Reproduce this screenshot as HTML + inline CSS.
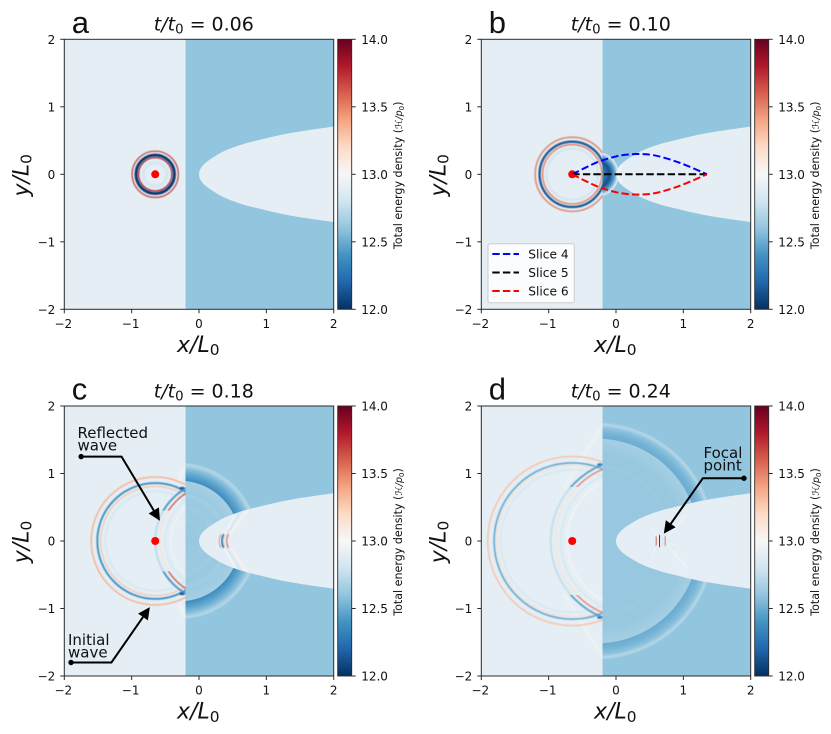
<!DOCTYPE html>
<html lang="en">
<head>
<meta charset="utf-8">
<title>Wave focusing in a gradient lens</title>
<style>
html,body{margin:0;padding:0;background:#fff;width:831px;height:734px;overflow:hidden}
svg{display:block}
text{font-family:"DejaVu Sans","Liberation Sans",sans-serif;fill:#111}
</style>
</head>
<body>
<svg id="fig" width="831" height="734" viewBox="0 0 831 734" xmlns="http://www.w3.org/2000/svg">
  <defs id="defs">
    <filter id="soft" x="-20%" y="-20%" width="140%" height="140%"><feGaussianBlur stdDeviation="0.45"/></filter>
    <filter id="softer" x="-20%" y="-20%" width="140%" height="140%"><feGaussianBlur stdDeviation="1.2"/></filter>
  </defs>
</svg>
<script>
// ---------- figure data ----------
const panelLetters = ['a', 'b', 'c', 'd'];
const panelTimes = ['0.06', '0.10', '0.18', '0.24'];
const xTicks = [-2, -1, 0, 1, 2];
const yTicks = [-2, -1, 0, 1, 2];
const colorbarTicks = [12.0, 12.5, 13.0, 13.5, 14.0];
const sourceX = -0.65;
const interfaceX = -0.2;
const leftEnergy = 12.9;
const rightEnergy = 12.6;
const lensX = [0, 0.004, 0.016, 0.04, 0.08, 0.163, 0.36, 0.6, 0.856, 1.35, 2.05];
const lensY = [0, 0.035, 0.07, 0.11, 0.155, 0.22, 0.337, 0.43, 0.5, 0.61, 0.715];
const rdbuStops = ['#053061', '#2166ac', '#4393c3', '#92c5de', '#d1e5f0', '#f7f7f7', '#fddbc7', '#f4a582', '#d6604d', '#b2182b', '#67001f'];

// direct wave fronts centred on the source (radius, energy, thickness in L0)
const directRadius = [[0.175, 0.248, 0.285, 0.343], [0.38, 0.44, 0.485, 0.55], [0.74, 0.81, 0.86, 0.95], [1.06, 1.12, 1.16, 1.255]];
const directEnergy = [[12.82, 13.8, 12.03, 13.7], [12.8, 13.5, 12.15, 13.5], [12.83, 13.3, 12.38, 13.35], [12.84, 13.2, 12.5, 13.3]];
const directThick = [[0.05, 0.018, 0.045, 0.018], [0.03, 0.022, 0.035, 0.022], [0.03, 0.016, 0.028, 0.022], [0.03, 0.014, 0.026, 0.02]];

// reflected fronts centred on the mirror image of the source
const mirrorX = 0.25;
const reflectedRadius = [[], [], [0.67, 0.75, 0.835, 0.9], [0.98, 1.07, 1.155, 1.22]];
const reflectedEnergy = [[], [], [12.95, 12.84, 13.16, 12.74], [12.96, 12.84, 13.14, 12.76]];
const reflectedThick = [[], [], [0.03, 0.03, 0.018, 0.03], [0.03, 0.03, 0.016, 0.03]];

// stronger parts of fronts, near the interface
const strongStartY = [0, 0, 0.45, 0.8];
const strongRadius = [[], [], [0.835, 0.9], [1.155, 1.22]];
const strongEnergy = [[], [], [13.7, 12.4], [13.55, 12.45]];
const strongThick = [[], [], [0.016, 0.024], [0.016, 0.024]];
const junctionX = [0, 0, -0.25, -0.24];
const junctionY = [0, 0, 0.78, 1.13];
const junctionEnergy = [0, 0, 12.15, 12.25];

// transmitted wave in right medium
const bandCenterX = [-0.294, -0.294, -0.29, -0.29];
const bandRadius = [[], [0, 0.06, 0.2, 0.27, 0.325, 0.345], [0, 0.7, 0.89, 0.9, 1.0, 1.07, 1.13, 1.15, 1.17], [0, 1.3, 1.515, 1.525, 1.6, 1.68, 1.725, 1.745, 1.765]];
const bandEnergy = [[], [12.4, 12.4, 12.12, 12.45, 12.88, 12.6], [12.62, 12.63, 12.66, 12.37, 12.48, 12.57, 12.7, 12.68, 12.6], [12.62, 12.62, 12.66, 12.5, 12.53, 12.59, 12.7, 12.68, 12.6]];
const transmittedFaintRadius = [[], [], [0.35, 0.5, 0.68], [0.8, 1.1, 1.38]];
const transmittedFaintEnergy = [[], [], [12.64, 12.65, 12.67], [12.62, 12.63, 12.64]];

// head-wave lines in left medium
const headStartY = [0, 0, 1.12, 1.72];
const headEndX = [0, 0, -0.31, -0.78];
const headEndY = [0, 0, 0.9, 0.78];

// chevrons inside the lens (tip x, wing x, wing y, energy, thickness)
const chevronTip = [[], [0.035], [0.41, 0.36, 0.33, 0.30, 0.41, 0.34], [0.6, 0.645, 0.69, 0.735]];
const chevronWingX = [[], [0.09], [0.72, 0.62, 0.54, 0.33, 0.44, 0.37], [0.59, 0.64, 0.69, 0.725]];
const chevronWingY = [[], [0.13], [0.46, 0.44, 0.39, 0.1, 0.1, 0.1], [0.07, 0.09, 0.07, 0.07]];
const chevronEnergy = [[], [12.98], [13.04, 12.82, 13.0, 13.5, 13.6, 12.3], [13.55, 12.1, 12.92, 13.5]];
const chevronThick = [[], [0.03], [0.03, 0.03, 0.022, 0.014, 0.016, 0.028], [0.024, 0.05, 0.02, 0.024]];
// crossing ripples around the focal point (panel d)
const focalStartX = [0.5, 0.52, 0.72, 0.74];
const focalStartY = [0.2, 0.2, 0.02, 0.02];
const focalEndX = [0.7, 0.66, 0.86, 1.05];
const focalEndY = [0.02, 0.02, 0.14, 0.4];

// slices of panel b
const sliceX = [-0.65, -0.45, -0.25, 0, 0.18, 0.35, 0.55, 0.8, 1.05, 1.35];
const slice4Y = [0, 0.1, 0.19, 0.265, 0.293, 0.3, 0.285, 0.22, 0.13, 0];
const slice5Y = [0, 0, 0, 0, 0, 0, 0, 0, 0, 0];
const slice6Y = [0, -0.1, -0.19, -0.265, -0.293, -0.3, -0.285, -0.22, -0.13, 0];
const sliceNames = ['Slice 4', 'Slice 5', 'Slice 6'];

// annotations
const reflectedNoteX = [-1.75, -1.15, -0.58];
const reflectedNoteY = [1.25, 1.25, 0.3];
const initialNoteX = [-1.9, -1.3, -0.73];
const initialNoteY = [-1.8, -1.8, -0.98];
const focalNoteX = [1.9, 1.29, 0.71];
const focalNoteY = [0.93, 0.93, 0.11];

// ---------- helpers ----------
const NS = 'http://www.w3.org/2000/svg';
const fig = document.getElementById('fig');
const defs = document.getElementById('defs');
function el(tag, attrs, parent) {
  const e = document.createElementNS(NS, tag);
  for (const k in attrs) e.setAttribute(k, attrs[k]);
  if (parent) parent.appendChild(e);
  return e;
}
function energyColor(v) {
  const t = Math.max(0, Math.min(1, (v - 12) / 2)) * (rdbuStops.length - 1);
  const i = Math.min(rdbuStops.length - 2, Math.floor(t));
  const f = t - i;
  const a = parseInt(rdbuStops[i].slice(1), 16);
  const b = parseInt(rdbuStops[i + 1].slice(1), 16);
  const ch = s => Math.round(((a >> s) & 255) * (1 - f) + ((b >> s) & 255) * f);
  return 'rgb(' + ch(16) + ',' + ch(8) + ',' + ch(0) + ')';
}
function smoothPath(pts) {
  let d = 'M' + pts[0][0] + ' ' + pts[0][1];
  for (let i = 0; i < pts.length - 1; i++) {
    const p0 = pts[Math.max(0, i - 1)], p1 = pts[i], p2 = pts[i + 1], p3 = pts[Math.min(pts.length - 1, i + 2)];
    d += 'C' + (p1[0] + (p2[0] - p0[0]) / 6) + ' ' + (p1[1] + (p2[1] - p0[1]) / 6) + ' ' +
      (p2[0] - (p3[0] - p1[0]) / 6) + ' ' + (p2[1] - (p3[1] - p1[1]) / 6) + ' ' + p2[0] + ' ' + p2[1];
  }
  return d;
}
const axLeft = [64.3, 481.3, 64.3, 481.3];
const axTop = [39.3, 39.3, 406, 406];
const axW = 269.4, axH = 270;
const cbGap = 4, cbW = 14;

// shared colour-bar gradient
const cbGrad = el('linearGradient', {id: 'cbgrad', x1: 0, y1: 1, x2: 0, y2: 0}, defs);
rdbuStops.forEach((c, i) => el('stop', {offset: i / (rdbuStops.length - 1), 'stop-color': c}, cbGrad));

function drawPanel(p) {
  const L = axLeft[p], T = axTop[p];
  const sx = x => L + (x + 2) / 4 * axW;
  const sy = y => T + (2 - y) / 4 * axH;
  const unit = axW / 4;
  const g = el('g', {}, fig);
  
  

  // clips
  const clipAx = el('clipPath', {id: 'ax' + p}, defs);
  el('rect', {x: L, y: T, width: axW, height: axH}, clipAx);
  const clipL = el('clipPath', {id: 'left' + p}, defs);
  el('rect', {x: L, y: T, width: sx(interfaceX) - L, height: axH}, clipL);
  const clipR = el('clipPath', {id: 'right' + p}, defs);
  el('rect', {x: sx(interfaceX), y: T, width: L + axW - sx(interfaceX), height: axH}, clipR);
  const upper = lensX.map((x, i) => [sx(x), sy(lensY[i])]);
  const lower = lensX.map((x, i) => [sx(x), sy(-lensY[i])]).reverse();
  const lensD = smoothPath(lower.concat(upper.slice(1))) + 'Z';
  const clipLens = el('clipPath', {id: 'lens' + p}, defs);
  el('path', {d: lensD}, clipLens);
  const clipStrong = el('clipPath', {id: 'strong' + p}, defs);
  const sy0 = strongStartY[p];
  el('rect', {x: L, y: T, width: sx(interfaceX) - L, height: sy(sy0) - T}, clipStrong);
  el('rect', {x: L, y: sy(-sy0), width: sx(interfaceX) - L, height: T + axH - sy(-sy0)}, clipStrong);

  // base field
  const field = el('g', {'clip-path': 'url(#ax' + p + ')'}, g);
  
  
  const leftRect = el('rect', {x: L, y: T, width: sx(interfaceX) - L, height: axH, fill: energyColor(leftEnergy)}, field);
  
  
  const rightRect = el('rect', {x: sx(interfaceX), y: T, width: L + axW - sx(interfaceX), height: axH, fill: energyColor(rightEnergy)}, field);
  
  

  // transmitted wave band
  if (bandRadius[p].length) {
    const R = bandRadius[p][bandRadius[p].length - 1];
    const grad = el('radialGradient', {id: 'band' + p, gradientUnits: 'userSpaceOnUse', cx: sx(bandCenterX[p]), cy: sy(0), r: R * unit}, defs);
    bandRadius[p].forEach((r, i) => el('stop', {offset: r / R, 'stop-color': energyColor(bandEnergy[p][i])}, grad));
    const rg = el('g', {'clip-path': 'url(#right' + p + ')'}, field);
    const band = el('circle', {cx: sx(bandCenterX[p]), cy: sy(0), r: R * unit, fill: 'url(#band' + p + ')'}, rg);
    
    
    transmittedFaintRadius[p].forEach((r, i) => {
      const faint = el('circle', {cx: sx(bandCenterX[p]), cy: sy(0), r: r * unit, fill: 'none', stroke: energyColor(transmittedFaintEnergy[p][i]), 'stroke-width': 0.03 * unit, filter: 'url(#softer)'}, rg);
      
      
    });
  }

  // lens
  const lens = el('path', {d: lensD, fill: energyColor(leftEnergy)}, field);
  
  

  const lensG = el('g', {'clip-path': 'url(#lens' + p + ')'}, field);
  if (p === 3) {
    focalStartX.forEach((x0, i) => {
      [1, -1].forEach(sign => {
        const ln = el('line', {x1: sx(x0), y1: sy(sign * focalStartY[i]), x2: sx(focalEndX[i]), y2: sy(sign * focalEndY[i]), stroke: energyColor(i % 2 ? 12.96 : 12.82), 'stroke-width': 0.03 * unit, filter: 'url(#soft)'}, lensG);
        
        
      });
    });
  }
  chevronTip[p].forEach((tip, i) => {
    const wx = chevronWingX[p][i], wy = chevronWingY[p][i];
    let d;
    if (wy > 0.15) {
      d = 'M' + sx(wx) + ' ' + sy(wy) + 'L' + sx(tip + 0.03) + ' ' + sy(0.07) + 'Q' + sx(tip - 0.02) + ' ' + sy(0) + ' ' + sx(tip + 0.03) + ' ' + sy(-0.07) + 'L' + sx(wx) + ' ' + sy(-wy);
    } else {
      d = 'M' + sx(wx) + ' ' + sy(wy) + 'Q' + sx(2 * tip - wx) + ' ' + sy(0) + ' ' + sx(wx) + ' ' + sy(-wy);
    }
    const ch = el('path', {d: d, fill: 'none', stroke: energyColor(chevronEnergy[p][i]), 'stroke-width': chevronThick[p][i] * unit, filter: 'url(#soft)'}, lensG);
    
    
  });

  // left-medium fronts
  const leftG = el('g', {'clip-path': 'url(#left' + p + ')'}, field);
  if (headEndX[p]) {
    [1, -1].forEach(sign => {
      const hw = el('line', {x1: sx(interfaceX), y1: sy(sign * headStartY[p]), x2: sx(headEndX[p]), y2: sy(sign * headEndY[p]), stroke: '#eef2f4', 'stroke-width': 0.05 * unit, filter: 'url(#softer)'}, leftG);
      
      
    });
  }
  reflectedRadius[p].forEach((r, i) => {
    const c = el('circle', {cx: sx(mirrorX), cy: sy(0), r: r * unit, fill: 'none', stroke: energyColor(reflectedEnergy[p][i]), 'stroke-width': reflectedThick[p][i] * unit, filter: 'url(#soft)'}, leftG);
    
    
  });
  directRadius[p].forEach((r, i) => {
    const c = el('circle', {cx: sx(sourceX), cy: sy(0), r: r * unit, fill: 'none', stroke: energyColor(directEnergy[p][i]), 'stroke-width': directThick[p][i] * unit, filter: 'url(#soft)'}, leftG);
    
    
  });
  const strongG = el('g', {'clip-path': 'url(#strong' + p + ')'}, field);
  strongRadius[p].forEach((r, i) => {
    const c = el('circle', {cx: sx(mirrorX), cy: sy(0), r: r * unit, fill: 'none', stroke: energyColor(strongEnergy[p][i]), 'stroke-width': strongThick[p][i] * unit, filter: 'url(#soft)'}, strongG);
    
    
  });
  if (junctionX[p]) {
    [1, -1].forEach(sign => {
      const j = el('ellipse', {cx: sx(junctionX[p]), cy: sy(sign * junctionY[p]), rx: 0.04 * unit, ry: 0.022 * unit, fill: energyColor(junctionEnergy[p]), filter: 'url(#soft)'}, leftG);
      
      
    });
  }

  // source marker
  const dot = el('circle', {cx: sx(sourceX), cy: sy(0), r: 4, fill: '#ff0000'}, field);
  
  

  // slices
  if (p === 1) {
    [[slice4Y, '#0000ff'], [slice5Y, '#000000'], [slice6Y, '#ff0000']].forEach((s, i) => {
      const pts = sliceX.map((x, k) => [sx(x), sy(s[0][k])]);
      const ln = el('path', {d: smoothPath(pts), fill: 'none', stroke: s[1], 'stroke-width': 2, 'stroke-dasharray': '7.4 3.2'}, field);
      
      
    });
  }

  // axes frame and ticks
  const frame = el('rect', {x: L, y: T, width: axW, height: axH, fill: 'none', stroke: '#2b2b2b', 'stroke-width': 1}, g);
  
  
  xTicks.forEach(v => {
    const t = el('line', {x1: sx(v), x2: sx(v), y1: T + axH, y2: T + axH + 4, stroke: '#2b2b2b', 'stroke-width': 1}, g);
    
    
    const lb = el('text', {x: sx(v) - (v < 0 ? 1 : 0), y: T + axH + 18.5, 'text-anchor': 'middle', 'font-size': 12}, g);
    lb.textContent = String(v).replace('-', '\u2212');
    
    
  });
  yTicks.forEach(v => {
    const t = el('line', {x1: L - 4, x2: L, y1: sy(v), y2: sy(v), stroke: '#2b2b2b', 'stroke-width': 1}, g);
    
    
    const lb = el('text', {x: L - 9, y: sy(v) + 4.5, 'text-anchor': 'end', 'font-size': 12}, g);
    lb.textContent = String(v).replace('-', '\u2212');
    
    
  });

  // axis titles
  const xl = el('text', {x: L + 134, y: T + 312.5, 'text-anchor': 'middle', 'font-size': 22, 'font-style': 'italic'}, g);
  
  
  xl.appendChild(document.createTextNode('x/L'));
  const xs = el('tspan', {'font-size': 15.4, dy: 3.3, 'font-style': 'normal'}, xl);
  xs.textContent = '0';
  const yl = el('text', {transform: 'translate(' + (L - 36) + ' ' + (T + 136) + ') rotate(-90)', 'text-anchor': 'middle', 'font-size': 22, 'font-style': 'italic'}, g);
  
  
  yl.appendChild(document.createTextNode('y/L'));
  const ys = el('tspan', {'font-size': 15.4, dy: 3.3, 'font-style': 'normal'}, yl);
  ys.textContent = '0';

  // title and panel letter
  const title = el('text', {x: L + 139.5, y: T - 8.6, 'text-anchor': 'middle', 'font-size': 19}, g);
  
  
  const tI = el('tspan', {'font-style': 'italic'}, title);
  tI.textContent = 't/t';
  const tS = el('tspan', {'font-size': 13.3, dy: 3}, title);
  tS.textContent = '0';
  const tR = el('tspan', {dy: -3}, title);
  tR.textContent = ' = ' + panelTimes[p];
  const letter = el('text', {x: L + 7.4, y: T - 6.3, 'font-size': 31}, g);
  letter.style.fontFamily = '"Liberation Sans",sans-serif';
  letter.textContent = panelLetters[p];
  
  

  // colour bar
  const cbX = L + axW + cbGap;
  const cb = el('g', {}, g);
  
  
  const cbR = el('rect', {x: cbX, y: T, width: cbW, height: axH, fill: 'url(#cbgrad)', stroke: '#2b2b2b', 'stroke-width': 0.9}, cb);
  
  
  const cby = v => T + axH - (v - 12) / 2 * axH;
  colorbarTicks.forEach(v => {
    const t = el('line', {x1: cbX + cbW, x2: cbX + cbW + 4, y1: cby(v), y2: cby(v), stroke: '#2b2b2b', 'stroke-width': 1}, cb);
    
    
    const lb = el('text', {x: cbX + cbW + 9.5, y: cby(v) + 4.5, 'font-size': 12}, cb);
    lb.textContent = v.toFixed(1);
    
    
  });
  const cl = el('text', {transform: 'translate(' + (L + 337.5) + ' ' + (T + 136) + ') rotate(-90)', 'text-anchor': 'middle', 'font-size': 11.1}, cb);
  
  
  cl.appendChild(document.createTextNode('Total energy density ('));
  const cI = el('tspan', {'font-style': 'italic', 'font-size': 9.5}, cl);
  cI.textContent = '\u210B/p';
  const cS = el('tspan', {'font-size': 7, dy: 2}, cl);
  cS.textContent = '0';
  const cE = el('tspan', {dy: -2}, cl);
  cE.textContent = ')';

  return {g, sx, sy};
}

function drawNote(ctx, xs, ys, name) {
  const pts = xs.map((x, i) => [ctx.sx(x), ctx.sy(ys[i])]);
  const a = pts[1], b = pts[2];
  const ang = Math.atan2(b[1] - a[1], b[0] - a[0]);
  const back = [b[0] - 12 * Math.cos(ang), b[1] - 12 * Math.sin(ang)];
  const gn = el('g', {}, ctx.g);
  
  
  const line = el('polyline', {points: pts[0].join(',') + ' ' + a.join(',') + ' ' + back.join(','), fill: 'none', stroke: '#000', 'stroke-width': 2}, gn);
  
  
  const nx = -Math.sin(ang), ny = Math.cos(ang);
  const head = el('polygon', {points: b.join(',') + ' ' + (back[0] + nx * 6) + ',' + (back[1] + ny * 6) + ' ' + (back[0] - nx * 6) + ',' + (back[1] - ny * 6), fill: '#000'}, gn);
  
  
  const dot = el('circle', {cx: pts[0][0], cy: pts[0][1], r: 2.7, fill: '#000'}, gn);
  
  
}
function drawNoteText(g, x, y, lines, name) {
  lines.forEach((s, i) => {
    const t = el('text', {x: x, y: y + i * 12.5, 'font-size': 15}, g);
    t.textContent = s;
    
    
  });
}

const panels = panelLetters.map((_, p) => drawPanel(p));

// legend in panel b
const lg = el('g', {}, panels[1].g);


const lgBox = el('rect', {x: 488, y: 243.7, width: 86.3, height: 59, rx: 2, fill: '#ffffff', 'fill-opacity': 0.8, stroke: '#cccccc', 'stroke-width': 1}, lg);


['#0000ff', '#000000', '#ff0000'].forEach((c, i) => {
  const rowY = 254 + i * 18.5;
  const sw = el('line', {x1: 492.3, x2: 519, y1: rowY, y2: rowY, stroke: c, 'stroke-width': 2, 'stroke-dasharray': '7.4 3.2'}, lg);
  
  
  const t = el('text', {x: 528.3, y: rowY + 4.5, 'font-size': 12.2}, lg);
  t.textContent = sliceNames[i];
  
  
});

// annotations
drawNoteText(panels[2].g, 77.5, 438, ['Reflected', 'wave'], 'reflected-wave-label');
drawNote(panels[2], reflectedNoteX, reflectedNoteY, 'reflected-wave-arrow');
drawNoteText(panels[2].g, 68, 645, ['Initial', 'wave'], 'initial-wave-label');
drawNote(panels[2], initialNoteX, initialNoteY, 'initial-wave-arrow');
drawNoteText(panels[3].g, 703.5, 458, ['Focal', 'point'], 'focal-point-label');
drawNote(panels[3], focalNoteX, focalNoteY, 'focal-point-arrow');
</script>
</body>
</html>
